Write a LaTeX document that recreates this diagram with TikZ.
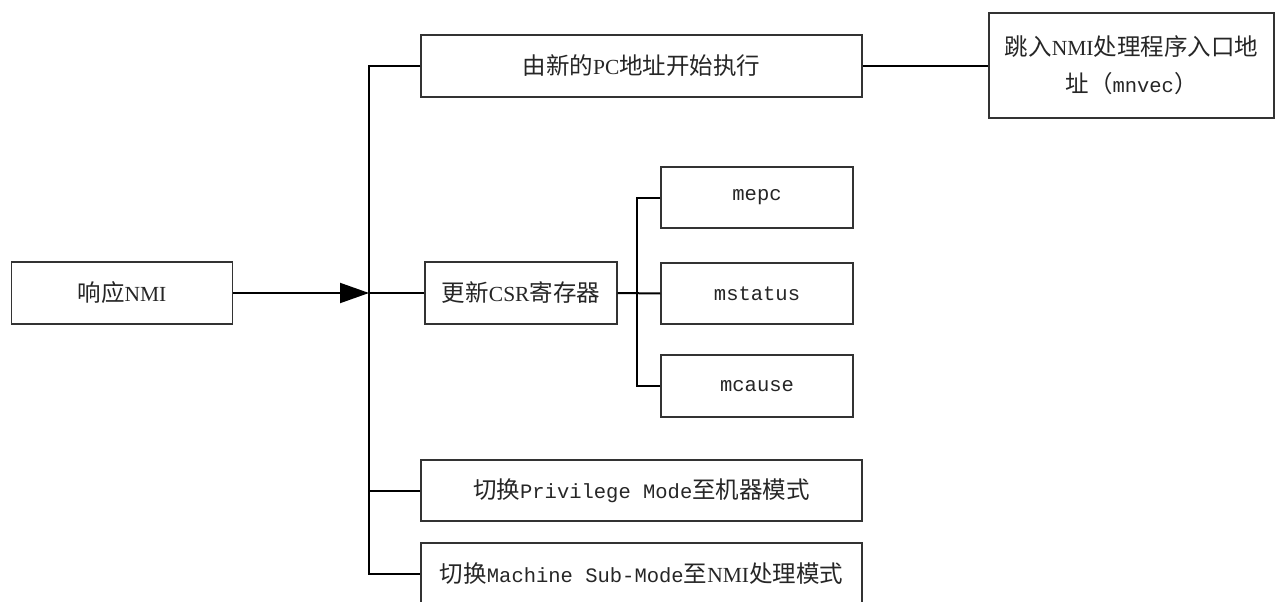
\documentclass[tikz,border=0pt]{standalone}
\usepackage{fontspec}
\newfontfamily\cjkf{Noto Sans CJK SC}
\newfontfamily\monof{Liberation Mono}
\newfontfamily\serf{Liberation Serif}
\newcommand\C[1]{{\cjkf\fontsize{23.5}{37}\selectfont #1}}
\newcommand\M[1]{{\monof\fontsize{20.5}{37}\selectfont #1}}
\newcommand\R[1]{{\serf\fontsize{21.5}{37}\selectfont #1}}
\usetikzlibrary{arrows.meta}
\begin{document}
\begin{tikzpicture}[x=1pt,y=-1pt,
  box/.style={draw=black!80, line width=1.3pt, text=black!85, inner sep=0pt, align=center, font=\fontsize{23.5}{37}\selectfont},
  conn/.style={draw=black, line width=2pt},
  arr/.style={conn, -{Triangle[length=29pt,width=20pt]}}]
\path[use as bounding box, clip] (0,0) rectangle (1275,602);
\fill[white] (0,0) rectangle (1275,602);
\node[box, minimum width=221, minimum height=62] (nmi) at (122,293) {\C{响应}\R{NMI}};
\node[box, minimum width=441, minimum height=62] (pc) at (641.5,66) {\C{由新的}\R{PC}\C{地址开始执行}};
\node[box, minimum width=285, minimum height=105] (jump) at (1131.5,65.5) {\C{跳入}\R{NMI}\C{处理程序入口地}\\\C{址（}\M{mnvec}\C{）}};
\node[box, minimum width=192, minimum height=62] (csr) at (521,293) {\C{更新}\R{CSR}\C{寄存器}};
\node[box, minimum width=192, minimum height=61] (mepc) at (757,197.5) {\M{mepc}};
\node[box, minimum width=192, minimum height=61] (mstatus) at (757,293.5) {\M{mstatus}};
\node[box, minimum width=192, minimum height=62] (mcause) at (757,386) {\M{mcause}};
\node[box, minimum width=441, minimum height=61] (priv) at (641.5,490.5) {\C{切换}\M{Privilege Mode}\C{至机器模式}};
\node[box, minimum width=441, minimum height=62] (mach) at (641.5,574) {\C{切换}\M{Machine Sub-Mode}\C{至}\R{NMI}\C{处理模式}};
\coordinate (t) at (369,293);
\coordinate (s) at (637,293);
\draw[conn] (pc.west) -| (t) |- (mach.west);
\draw[conn] (t) -- (csr.west);
\draw[conn] (t |- priv.west) -- (priv.west);
\draw[arr] (nmi.east) -- (t);
\draw[conn] (pc.east) -- (pc.east -| jump.west);
\draw[conn] (mepc.west) -| (s) |- (mcause.west);
\draw[conn] (csr.east) -- (mstatus.west);
\end{tikzpicture}
\end{document}
